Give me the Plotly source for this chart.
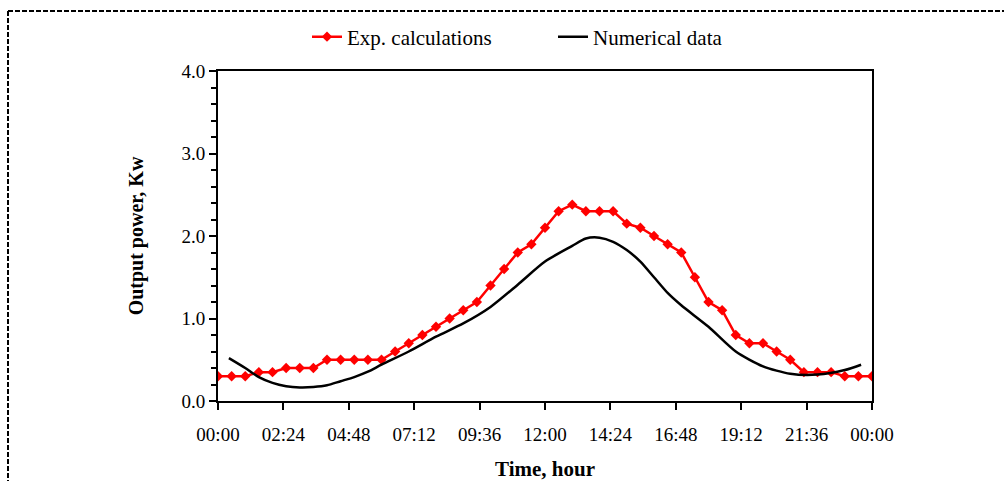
import plotly.graph_objects as go

# ---- data ----
exp_hours = [i * 0.5 for i in range(49)]
exp_power = [0.30, 0.30, 0.30, 0.35, 0.35, 0.40, 0.40, 0.40, 0.50, 0.50,
             0.50, 0.50, 0.50, 0.60, 0.70, 0.80, 0.90, 1.00, 1.10, 1.20,
             1.40, 1.60, 1.80, 1.90, 2.10, 2.30, 2.38, 2.30, 2.30, 2.30,
             2.15, 2.10, 2.00, 1.90, 1.80, 1.50, 1.20, 1.10, 0.80, 0.70,
             0.70, 0.60, 0.50, 0.35, 0.35, 0.35, 0.30, 0.30, 0.30]

num_hours = [0.4, 1, 1.5, 2, 2.5, 3, 3.5, 4, 4.5, 5, 5.5, 6, 7, 8, 9, 10, 11,
             12, 13, 13.5, 14, 14.5, 15, 15.5, 16, 16.5, 17, 18, 19, 20, 21,
             22, 23, 23.6]
num_power = [0.52, 0.40, 0.29, 0.22, 0.18, 0.165, 0.17, 0.19, 0.24, 0.29,
             0.355, 0.44, 0.60, 0.78, 0.94, 1.14, 1.41, 1.69, 1.88, 1.97,
             1.98, 1.93, 1.83, 1.69, 1.50, 1.31, 1.16, 0.90, 0.60, 0.42,
             0.33, 0.32, 0.375, 0.44]

x_tick_vals = [0, 2.4, 4.8, 7.2, 9.6, 12, 14.4, 16.8, 19.2, 21.6, 24]
x_tick_text = ["00:00", "02:24", "04:48", "07:12", "09:36", "12:00",
               "14:24", "16:48", "19:12", "21:36", "00:00"]

FONT = "Liberation Serif, Times New Roman, serif"

fig = go.Figure()
fig.add_trace(go.Scatter(
    x=exp_hours, y=exp_power, mode="lines+markers", name="Exp. calculations",
    line=dict(color="#ff0000", width=2.5),
    marker=dict(symbol="diamond", size=8, color="#ff0000"),
    legend="legend"))
fig.add_trace(go.Scatter(
    x=num_hours, y=num_power, mode="lines", name="Numerical data",
    line=dict(color="black", width=2.5, shape="spline", smoothing=0.7),
    legend="legend2"))

L, R, T, B = 218, 132, 71, 80
W, H = 1004, 481
pw, ph = W - L - R, H - T - B

def px_x(px):
    return (px - L) / pw

def px_y(py):
    return (H - B - py) / ph

fig.update_layout(
    width=W, height=H,
    margin=dict(l=L, r=R, t=T, b=B, autoexpand=False),
    paper_bgcolor="white", plot_bgcolor="white",
    font=dict(family=FONT, size=19, color="black"),
    showlegend=True,
    legend=dict(x=px_x(307), y=px_y(37), xanchor="left", yanchor="middle",
                orientation="h", font=dict(size=21), bgcolor="rgba(0,0,0,0)",
                borderwidth=0),
    legend2=dict(x=px_x(553), y=px_y(37), xanchor="left", yanchor="middle",
                 orientation="h", font=dict(size=21), bgcolor="rgba(0,0,0,0)",
                 borderwidth=0),
    xaxis=dict(range=[0, 24], tickmode="array", tickvals=x_tick_vals,
               ticktext=x_tick_text, showgrid=False, zeroline=False,
               showline=True, linecolor="black", linewidth=2, mirror=True,
               ticks="outside", ticklen=7, tickwidth=2, tickcolor="black",
               ticklabelstandoff=8,
               tickfont=dict(size=19),
               title=dict(text="<b>Time, hour</b>", font=dict(size=21),
                          standoff=19),
               automargin=False),
    yaxis=dict(range=[0, 4], dtick=1, tickformat=".1f", showgrid=False,
               zeroline=False, showline=True, linecolor="black", linewidth=2,
               mirror=True, ticks="outside", ticklen=7, tickwidth=2,
               tickcolor="black", tickfont=dict(size=19),
               minor=dict(dtick=0.2, ticks="outside", ticklen=5, tickwidth=2,
                          tickcolor="black", showgrid=False),
               title=dict(text="<b>Output power, Kw</b>", font=dict(size=20),
                          standoff=32),
               automargin=False),
    shapes=[
        dict(type="line", xref="paper", yref="paper",
             x0=px_x(8), x1=px_x(1004), y0=px_y(11), y1=px_y(11),
             line=dict(color="black", width=2, dash="5px,2px")),
        dict(type="line", xref="paper", yref="paper",
             x0=px_x(8), x1=px_x(8), y0=px_y(11), y1=px_y(481),
             line=dict(color="black", width=2, dash="5px,2px")),
    ],
)

fig.write_html("out.html",
               config={"displayModeBar": False},
               post_script="document.body.style.margin='0';"
                           "document.body.style.overflow='hidden';")
